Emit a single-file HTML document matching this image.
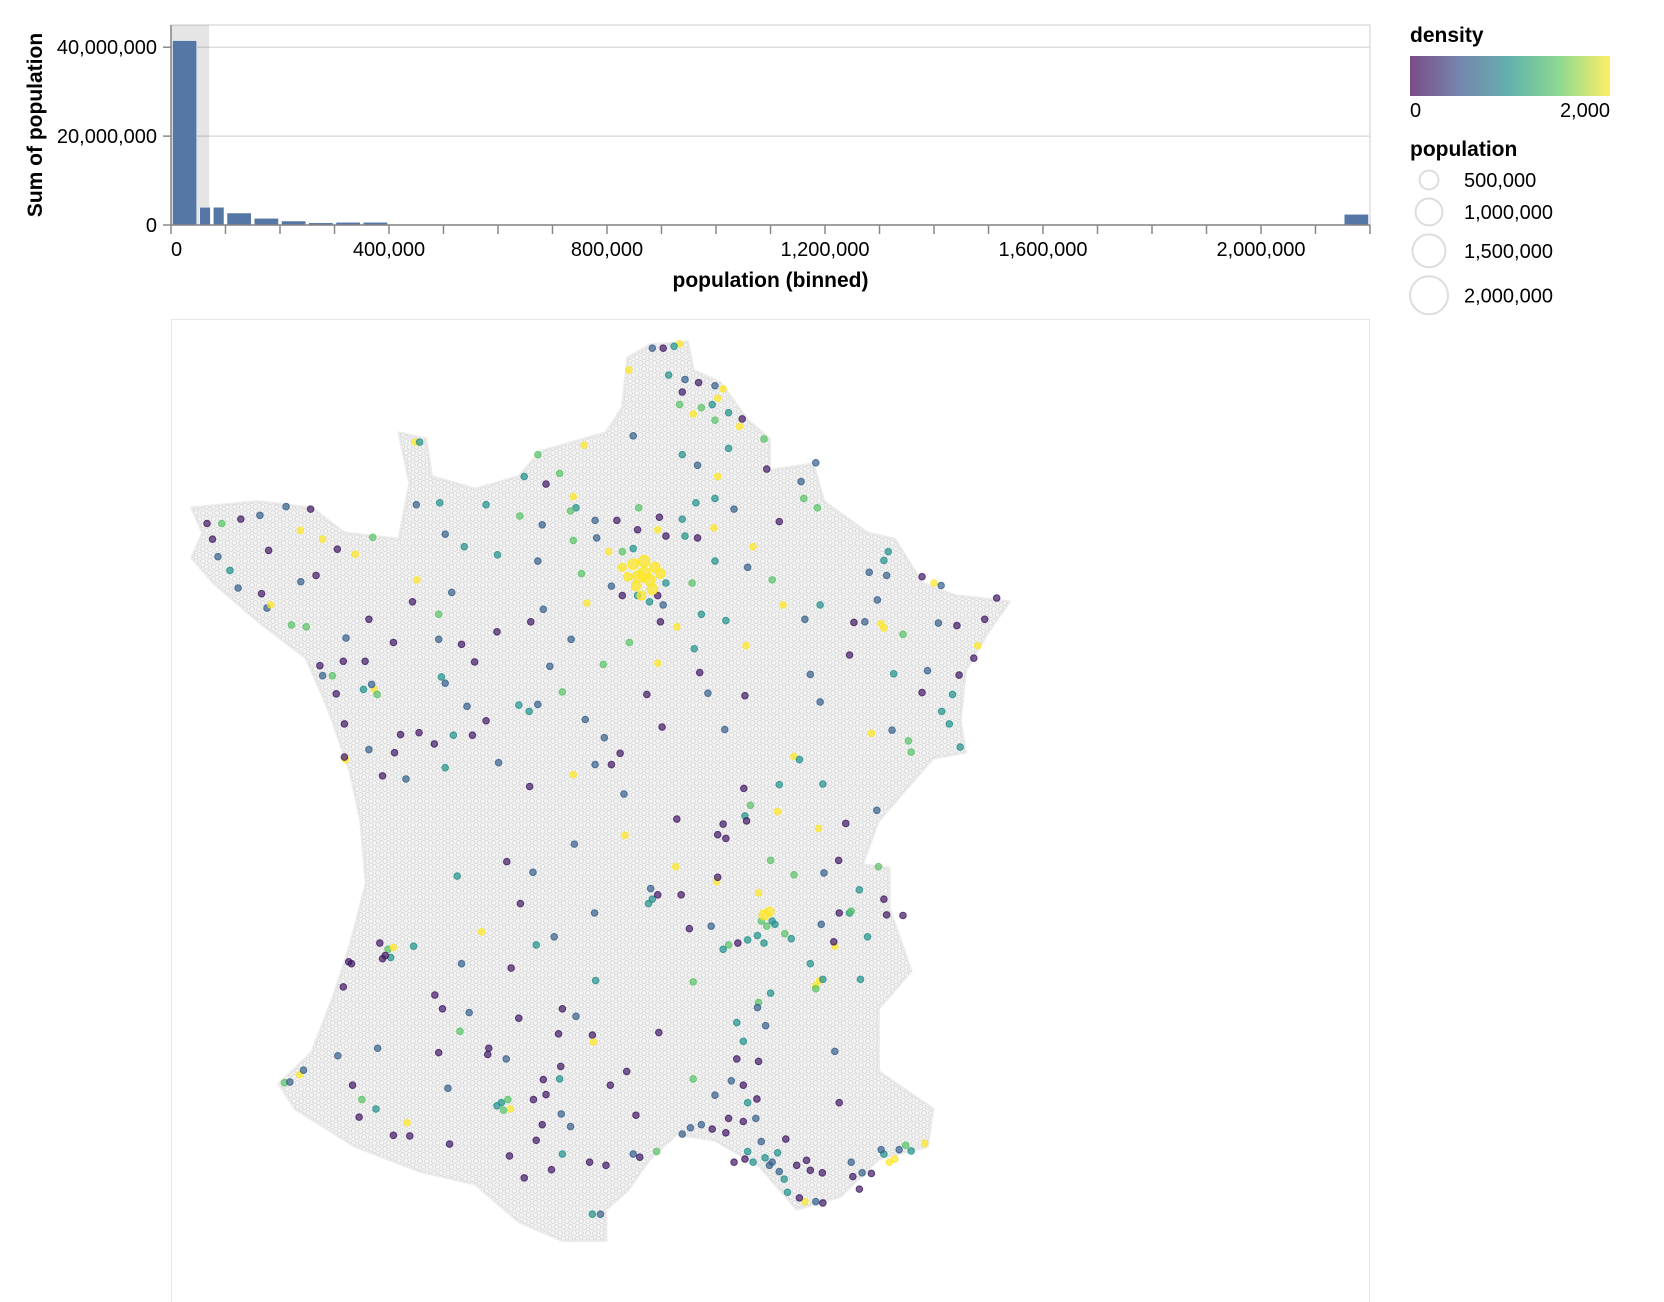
<!DOCTYPE html>
<html><head><meta charset="utf-8"><title>Population histogram and France map</title>
<style>
html,body{margin:0;padding:0;background:#fff;width:1664px;height:1302px;overflow:hidden;}
svg{display:block;overflow:hidden;font-family:"Liberation Sans",Helvetica,Arial,sans-serif;}
</style></head>
<body>
<svg id="chart" width="1664" height="1302" viewBox="0 0 1664 1302" xmlns="http://www.w3.org/2000/svg">
<defs>
<linearGradient id="viridis" x1="0" x2="1" y1="0" y2="0">
<stop offset="0" stop-color="#440154"/><stop offset="0.25" stop-color="#3b528b"/><stop offset="0.5" stop-color="#21918c"/><stop offset="0.75" stop-color="#5ec962"/><stop offset="1" stop-color="#fde725"/>
</linearGradient>
<pattern id="rings" width="7" height="12" patternUnits="userSpaceOnUse">
<circle cx="3.5" cy="3" r="2.4" fill="none" stroke="#d4d4d4" stroke-width="0.9"/>
<circle cx="0" cy="9" r="2.4" fill="none" stroke="#d4d4d4" stroke-width="0.9"/>
<circle cx="7" cy="9" r="2.4" fill="none" stroke="#d4d4d4" stroke-width="0.9"/>
</pattern>
<clipPath id="mapclip"><rect x="171" y="319" width="1199" height="983"/></clipPath>
</defs>
<g id="hist"></g>
<g id="map" clip-path="url(#mapclip)"></g>
<g id="legend"></g>
</svg>
<script>
// ---------- histogram data ----------
const binStarts = [0, 50000, 75000, 100000, 150000, 200000, 250000, 300000, 350000, 2150000];
const binEnds   = [50000, 75000, 100000, 150000, 200000, 250000, 300000, 350000, 400000, 2200000];
const binSums   = [41500000, 4000000, 4000000, 2700000, 1500000, 900000, 500000, 600000, 600000, 2400000];
const yTicks = [0, 20000000, 40000000];
const yTickLabels = ["0", "20,000,000", "40,000,000"];
const xLabelValues = [0, 400000, 800000, 1200000, 1600000, 2000000];
const xLabelText = ["0", "400,000", "800,000", "1,200,000", "1,600,000", "2,000,000"];
const brushRange = [0, 70000];

// ---------- map data (projected map units) ----------
const outlineU = [880,950,960,1010,1060,1100,1100,1180,1200,1280,1330,1380,1440,1540,1500,1460,1450,1460,1400,1340,1300,1270,1320,1320,1360,1300,1300,1400,1390,1300,1230,1150,1080,1000,930,880,840,800,800,720,640,560,460,340,230,200,260,300,330,360,350,330,290,250,160,80,40,60,40,160,260,320,420,440,420,470,480,560,640,680,800,830,840];
const outlineV = [40,35,80,100,160,190,240,230,290,340,350,420,440,450,500,560,640,690,700,760,800,870,875,940,1040,1100,1200,1260,1320,1340,1400,1420,1350,1310,1300,1340,1390,1420,1470,1470,1440,1380,1360,1320,1260,1220,1170,1080,1000,900,800,720,620,540,480,420,380,340,300,290,300,340,350,260,180,190,250,270,250,210,180,140,60];
// cities: "u,v,densityCode" ; P purple, B blue, T teal, G green, Y yellow
const densityByCode = {P:150, B:600, T:1000, G:1450, Y:2000};
const cityList = "935,38,Y 925,42,T 905,45,P 885,45,B 842,80,Y 915,88,T 945,95,B 970,100,P 1000,105,B 1015,110,Y 1005,125,Y 995,135,T 975,140,G 960,150,Y 940,115,P 935,135,G 1025,148,T 1045,170,Y 1050,158,P 1000,160,G 1025,205,T 1090,190,G 850,185,B 760,200,Y 675,215,G 650,250,T 715,245,G 690,262,P 740,282,Y 745,300,T 735,305,G 580,295,T 495,292,T 450,195,Y 458,195,T 452,295,B 1005,250,Y 968,232,B 940,215,T 1095,238,P 1158,258,B 1185,228,B 1188,300,G 1163,285,G 1035,302,B 1000,285,T 965,292,T 860,300,G 820,320,P 780,320,B 898,315,P 940,318,T 910,345,P 895,335,Y 858,335,P 945,345,T 968,348,P 998,332,Y 783,348,B 740,352,G 1070,362,Y 1118,322,P 805,370,Y 830,370,G 850,365,T 910,420,T 895,440,P 905,455,B 880,450,T 810,425,B 830,440,P 858,440,T 755,405,G 765,452,Y 900,482,P 930,490,Y 958,420,G 1000,385,T 1060,395,B 1105,415,G 1125,455,Y 1165,478,B 1193,455,T 975,470,T 1020,480,T 1057,520,Y 962,525,T 895,548,Y 843,515,G 795,550,G 697,553,B 736,510,B 685,462,B 662,482,P 601,375,T 675,385,B 642,313,G 683,327,B 540,362,T 505,342,B 600,498,P 535,518,P 493,510,B 559,546,P 517,435,B 445,450,P 493,470,G 453,415,Y 372,347,G 340,374,Y 307,366,P 280,350,Y 239,336,Y 213,298,B 258,302,P 165,312,B 130,318,P 95,325,G 68,325,P 78,350,P 88,378,B 110,400,T 125,428,B 181,368,P 168,437,P 178,460,B 185,455,Y 223,487,G 250,490,G 240,418,B 268,408,P 323,508,B 365,478,P 410,515,P 318,545,P 358,545,P 275,552,P 298,568,G 280,568,B 305,597,P 355,590,T 375,590,Y 370,582,B 380,598,G 320,645,P 365,686,B 322,702,Y 320,698,P 423,662,P 457,659,P 485,677,P 412,691,P 390,728,P 433,733,B 505,715,T 520,663,T 555,663,P 498,570,T 505,580,B 545,617,B 580,640,P 640,615,T 675,614,B 720,594,G 762,638,B 797,667,B 826,692,P 780,710,B 810,710,P 740,726,Y 603,707,B 660,745,P 659,625,T 833,757,B 875,598,P 903,650,P 972,563,P 987,596,B 1018,654,B 1055,600,P 1175,566,B 1193,610,B 1247,535,P 1255,483,P 1283,403,B 1315,408,B 1310,384,T 1318,370,T 1345,502,G 1305,485,Y 1310,492,Y 1275,482,B 1298,447,B 1328,565,T 1390,560,B 1448,567,P 1410,484,B 1444,488,P 1495,478,P 1517,444,P 1482,520,Y 1475,540,P 1436,598,T 1416,625,T 1430,645,T 1450,682,T 1355,672,G 1360,690,G 1325,655,B 1287,660,Y 1380,595,P 1402,420,Y 1415,424,B 1380,410,P 1145,697,Y 1155,702,T 1118,742,T 1198,741,T 1053,748,P 1065,775,G 1055,792,T 1058,800,P 1015,805,P 1005,822,P 1020,828,P 1115,785,Y 1190,812,Y 1240,804,P 1297,783,B 1227,863,P 1200,883,B 1145,886,G 1102,863,G 1080,915,Y 1085,960,G 1105,960,T 1095,968,G 1078,983,T 1110,965,T 1128,980,G 1140,988,T 1060,990,T 1025,998,G 1015,1005,T 1042,995,P 1090,995,T 993,968,B 1003,897,Y 1005,890,P 953,972,P 938,918,P 928,873,Y 885,925,T 882,908,B 895,918,P 878,932,T 930,797,P 835,823,Y 742,837,B 666,882,B 618,865,P 527,888,T 572,977,Y 643,932,P 672,998,T 705,985,B 626,1035,P 779,947,B 781,1055,T 960,1057,G 1080,1090,G 1078,1098,B 1102,1075,T 1175,1028,T 1192,1055,Y 1185,1063,Y 1185,1068,G 1198,1053,T 1220,1000,Y 1218,993,P 1247,947,T 1250,944,G 1228,947,P 1195,965,B 1265,910,T 1300,873,G 1310,925,P 1315,950,P 1345,951,P 1267,1053,T 1280,985,T 1093,1127,B 1040,1122,T 1052,1152,T 1040,1180,P 1080,1184,P 1030,1215,B 1052,1222,P 1077,1244,P 1075,1275,B 1060,1250,T 1052,1280,P 1025,1275,P 1020,1298,P 995,1292,P 975,1285,B 955,1290,B 960,1212,G 1000,1238,B 1035,1345,P 1055,1340,P 1060,1328,T 1070,1345,T 1085,1312,B 1092,1338,T 1100,1350,B 1105,1345,B 1115,1330,T 1118,1360,B 1127,1372,T 1133,1393,T 1130,1308,P 1150,1350,P 1168,1342,P 1175,1358,P 1197,1362,P 1165,1408,Y 1185,1408,B 1198,1410,P 1155,1402,P 1250,1345,B 1270,1362,B 1287,1363,P 1310,1332,T 1305,1325,B 1320,1345,Y 1330,1340,Y 1338,1325,B 1350,1318,G 1360,1327,T 1385,1315,Y 1228,1250,P 1220,1168,B 1265,1388,P 1253,1368,P 210,1218,G 238,1205,Y 245,1198,B 220,1217,B 308,1175,B 335,1222,P 352,1245,G 378,1260,T 347,1273,P 410,1302,P 435,1282,Y 440,1303,P 385,995,P 400,1005,G 410,1002,Y 405,1018,T 395,1015,P 390,1020,P 447,1000,T 328,1025,P 333,1028,P 318,1065,P 486,1078,P 500,1100,P 549,1106,B 535,1028,B 640,1115,P 720,1100,P 745,1112,B 713,1140,P 775,1142,P 777,1153,Y 838,1200,P 808,1222,P 897,1138,P 855,1270,P 850,1332,B 893,1328,G 862,1337,P 940,1300,B 800,1350,P 770,1345,P 720,1332,T 700,1357,P 650,1370,P 623,1335,P 608,1250,T 620,1245,G 625,1260,Y 600,1255,T 612,1262,G 617,1180,B 585,1163,P 583,1173,P 667,1245,P 690,1237,P 685,1213,P 717,1192,P 715,1212,T 718,1268,B 735,1288,B 683,1285,P 672,1310,P 510,1227,B 513,1316,P 532,1136,G 493,1170,P 381,1163,B 790,1428,B 775,1428,T";
const cityPop = 60000;
// Paris & Lyon large yellow clusters
const bigU = [850,870,890,860,880,900,855,885,865,840,830,870,1090,1100];
const bigV = [390,385,395,410,415,405,425,430,440,410,395,405,950,945];
const bigPop = [150000,180000,140000,200000,170000,130000,120000,150000,110000,100000,90000,220000,140000,120000];
const bigDensity = [2000,2000,2000,2000,2000,2000,2000,2000,2000,2000,2000,2000,2000,2000];

// ---------- legend data ----------
const sizeLegendValues = [500000, 1000000, 1500000, 2000000];
const sizeLegendLabels = ["500,000", "1,000,000", "1,500,000", "2,000,000"];
const densityDomain = [0, 2000];

const NS = "http://www.w3.org/2000/svg";
function mk(tag, attrs, parent){const e=document.createElementNS(NS,tag);for(const k in attrs)e.setAttribute(k,attrs[k]);parent.appendChild(e);return e;}

// ---------- histogram ----------
const H = document.getElementById('hist');
const X0=171, X1=1370, Y0=225, Y1=25;
const xs = v => X0 + v*(X1-X0)/2200000;
const ys = v => Y0 - v*(Y0-Y1)/45000000;
const frame = mk('rect',{x:X0,y:Y1,width:X1-X0,height:Y0-Y1,fill:'none',stroke:'#ddd','stroke-width':1.5},H);


yTicks.forEach((t,i)=>{
  const g = mk('line',{x1:X0,x2:X1,y1:ys(t),y2:ys(t),stroke:'#ddd','stroke-width':1.5},H);
  
  
});
const brush = mk('rect',{x:xs(brushRange[0]),y:Y1,width:xs(brushRange[1])-xs(brushRange[0]),height:Y0-Y1,fill:'#333','fill-opacity':0.125},H);


binStarts.forEach((s,i)=>{
  const x=xs(s)+1.5, w=xs(binEnds[i])-xs(s)-3;
  const b = mk('rect',{x:x,y:ys(binSums[i]),width:w,height:Y0-ys(binSums[i]),fill:'#5577a5',stroke:'#fff','stroke-width':0.5},H);
  
  
});
const yax = mk('line',{x1:X0,x2:X0,y1:Y1,y2:Y0,stroke:'#888','stroke-width':1.5},H);


yTicks.forEach((t,i)=>{
  const tk = mk('line',{x1:X0-8,x2:X0,y1:ys(t),y2:ys(t),stroke:'#888','stroke-width':1.5},H);
  
  
  const lb = mk('text',{x:X0-14,y:ys(t)+7,'text-anchor':'end','font-size':20,fill:'#000'},H);
  lb.textContent = yTickLabels[i];
  
  
});
const yt = mk('text',{x:0,y:0,transform:'translate(42,125) rotate(-90)','text-anchor':'middle','font-size':21,'font-weight':'bold',fill:'#000'},H);
yt.textContent='Sum of population';


const xax = mk('line',{x1:X0,x2:X1,y1:Y0,y2:Y0,stroke:'#888','stroke-width':1.5},H);


for(let v=0; v<=2200000; v+=100000){
  const tk = mk('line',{x1:xs(v),x2:xs(v),y1:Y0,y2:Y0+9,stroke:'#888','stroke-width':1.5},H);
  
  
}
xLabelValues.forEach((v,i)=>{
  const lb = mk('text',{x:xs(v),y:Y0+31,'text-anchor':i===0?'start':'middle','font-size':20,fill:'#000'},H);
  lb.textContent = xLabelText[i];
  
  
});
const xt = mk('text',{x:(X0+X1)/2,y:287,'text-anchor':'middle','font-size':21,'font-weight':'bold',fill:'#000'},H);
xt.textContent='population (binned)';



// ---------- map ----------
const M = document.getElementById('map');
const mx = u => 170 + u/1.835;
const my = v => 320 + v/1.597;
const rsz = p => 19*Math.sqrt(p/2000000);
const vir = ['#440154','#3b528b','#21918c','#5ec962','#fde725'];
function hex(c){return [parseInt(c.slice(1,3),16),parseInt(c.slice(3,5),16),parseInt(c.slice(5,7),16)];}
function color(d){
  let t=Math.max(0,Math.min(1,(d-densityDomain[0])/(densityDomain[1]-densityDomain[0])))*4;
  const i=Math.min(3,Math.floor(t)), f=t-i, a=hex(vir[i]), b=hex(vir[i+1]);
  return 'rgb('+a.map((x,k)=>Math.round(x+(b[k]-x)*f)).join(',')+')';
}
const mframe = mk('rect',{x:171,y:319,width:1199,height:1000,fill:'none',stroke:'#ddd','stroke-width':1.5},M);


const pts = outlineU.map((u,i)=>mx(u).toFixed(1)+','+my(outlineV[i]).toFixed(1)).join(' ');
const land = mk('polygon',{points:pts,fill:'#f3f3f3',stroke:'#ececec','stroke-width':3,'stroke-linejoin':'round'},M);


const landRings = mk('polygon',{points:pts,fill:'url(#rings)'},M);


cityList.split(' ').forEach(s=>{
  const [u,v,c]=s.split(',');
  const col=color(densityByCode[c]);
  const dot = mk('circle',{cx:mx(+u),cy:my(+v),r:rsz(cityPop),fill:col,'fill-opacity':0.7,stroke:col,'stroke-opacity':0.8,'stroke-width':1},M);
  
  
});
bigU.forEach((u,i)=>{
  const col=color(bigDensity[i]);
  const dot = mk('circle',{cx:mx(u),cy:my(bigV[i]),r:rsz(bigPop[i]),fill:col,'fill-opacity':0.75,stroke:col,'stroke-width':1},M);
  
  
});

// ---------- legend ----------
const L = document.getElementById('legend');
const dtitle = mk('text',{x:1410,y:42,'font-size':21,'font-weight':'bold',fill:'#000'},L);
dtitle.textContent='density';


const grad = mk('rect',{x:1410,y:56,width:200,height:40,fill:'url(#viridis)','fill-opacity':0.7},L);


const l0 = mk('text',{x:1410,y:117,'font-size':20,fill:'#000'},L);
l0.textContent='0';


const l1 = mk('text',{x:1610,y:117,'font-size':20,'text-anchor':'end',fill:'#000'},L);
l1.textContent='2,000';


const ptitle = mk('text',{x:1410,y:156,'font-size':21,'font-weight':'bold',fill:'#000'},L);
ptitle.textContent='population';


let cy = 170.5;
sizeLegendValues.forEach((v,i)=>{
  const r = rsz(v);
  cy += r;
  const c = mk('circle',{cx:1429,cy:cy,r:r,fill:'none',stroke:'#ddd','stroke-width':2},L);
  
  
  const t = mk('text',{x:1464,y:cy+7,'font-size':20,fill:'#000'},L);
  t.textContent = sizeLegendLabels[i];
  
  
  cy += r + 9;
});
</script>
</body></html>
